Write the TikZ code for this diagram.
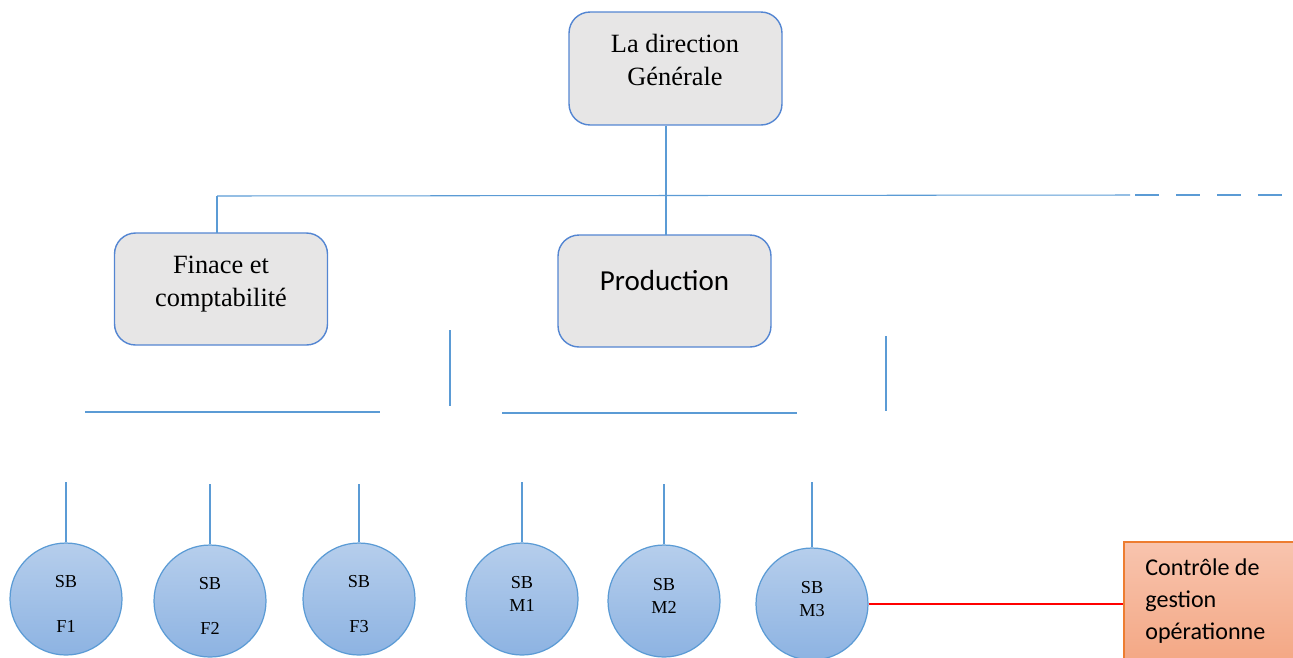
\documentclass[tikz,border=0pt]{standalone}
\usepackage{fontspec}
\setmainfont{Liberation Serif}
\newfontfamily\calib{Carlito}
\usepackage{tikz}
\usetikzlibrary{positioning}
\definecolor{boxgray}{RGB}{231,230,230}
\definecolor{boxblue}{RGB}{84,134,210}
\definecolor{linkblue}{RGB}{91,155,213}
\definecolor{sbtop}{RGB}{182,206,236}
\definecolor{sbbot}{RGB}{141,179,226}
\definecolor{ctrltop}{RGB}{248,196,174}
\definecolor{ctrlbot}{RGB}{243,163,126}
\definecolor{ctrlline}{RGB}{237,125,49}
\newcommand{\uplift}{\rule{0pt}{12.5pt}}
\newcommand{\downlift}{\rule[-5.7pt]{0pt}{5.7pt}}
\tikzset{
  orgbox/.style={draw=boxblue,line width=0.8pt,fill=boxgray,rounded corners=0.42cm,
    minimum width=4.26cm,minimum height=2.24cm},
  orgtext/.style={align=center,font=\fontsize{15}{18.6}\selectfont},
  sbcircle/.style={circle,draw=linkblue,line width=0.7pt,top color=sbtop,bottom color=sbbot,
    minimum size=2.24cm,inner sep=0pt,align=center,font=\fontsize{10.4}{13}\selectfont},
  link/.style={draw=linkblue,line width=0.6pt}
}

\begin{document}
\begin{tikzpicture}[x=0.02cm,y=-0.02cm]
\useasboundingbox (0,0) rectangle (1293,657);
\clip (0,0) rectangle (1293,657);
% boxes
\node [orgbox,minimum height=2.26cm] (dg) at (675.5,68.5) {};
\node [orgtext] (dgtext) at (675,60) {La direction\\Générale};
\node [orgbox] (fin) at (221,289) {};
\node [orgtext] (fintext) at (221,284) {Finace et\\comptabilité};
\node [orgbox] (prod) at (664.5,291) {};
\node [font=\calib\fontsize{16.5}{20}\selectfont] (prodtext) at (664.5,281) {Production};
% bus
\coordinate (busL) at (217,196);
\coordinate (busR) at (1130,195);
\coordinate (busD) at (1135,195);
\coordinate (busE) at (1285,195);
\draw [link] (dg.south -| 666,0) -- (666,235);
\draw [link] (busL) -- (busR);
\draw [link,dash pattern=on 0.48cm off 0.34cm] (busD) -- (busE);
\draw [link] (busL) -- (217,233);
% loose strokes
\coordinate (s1a) at (450,330); \coordinate (s1b) at (450,406);
\coordinate (s2a) at (886,336); \coordinate (s2b) at (886,411);
\coordinate (h1a) at (85,412);  \coordinate (h1b) at (380,412);
\coordinate (h2a) at (502,413); \coordinate (h2b) at (797,413);
\draw [link] (s1a) -- (s1b);
\draw [link] (s2a) -- (s2b);
\draw [link] (h1a) -- (h1b);
\draw [link] (h2a) -- (h2b);
% sub units
\node [sbcircle] (f1) at (66,599) {\uplift SB\\[13pt]F1};
\node [sbcircle] (f2) at (210,601) {\uplift SB\\[13pt]F2};
\node [sbcircle] (f3) at (359,599) {\uplift SB\\[13pt]F3};
\node [sbcircle] (m1) at (522,599) {SB\\M1\downlift};
\node [sbcircle] (m2) at (664,601) {SB\\M2\downlift};
\node [sbcircle] (m3) at (812,604) {SB\\M3\downlift};
\draw [link] (f1.north) -- ++(0,-60);
\draw [link] (f2.north) -- ++(0,-60);
\draw [link] (f3.north) -- ++(0,-58);
\draw [link] (m1.north) -- ++(0,-60);
\draw [link] (m2.north) -- ++(0,-60);
\draw [link] (m3.north) -- ++(0,-65);
% controle
\node [draw=ctrlline,line width=0.8pt,top color=ctrltop,bottom color=ctrlbot,
  minimum width=3.48cm,minimum height=2.76cm] (ctrl) at (1211,611) {};
\node [anchor=north west,align=left,inner sep=0pt,
  font=\calib\fontsize{13.7}{18.2}\selectfont] (ctrltext) at (1145,558)
  {Contrôle de\\gestion\\opérationne};
\draw [red,line width=0.6pt] (m3.east) -- (ctrl.west |- 0,604);
\end{tikzpicture}
\end{document}
